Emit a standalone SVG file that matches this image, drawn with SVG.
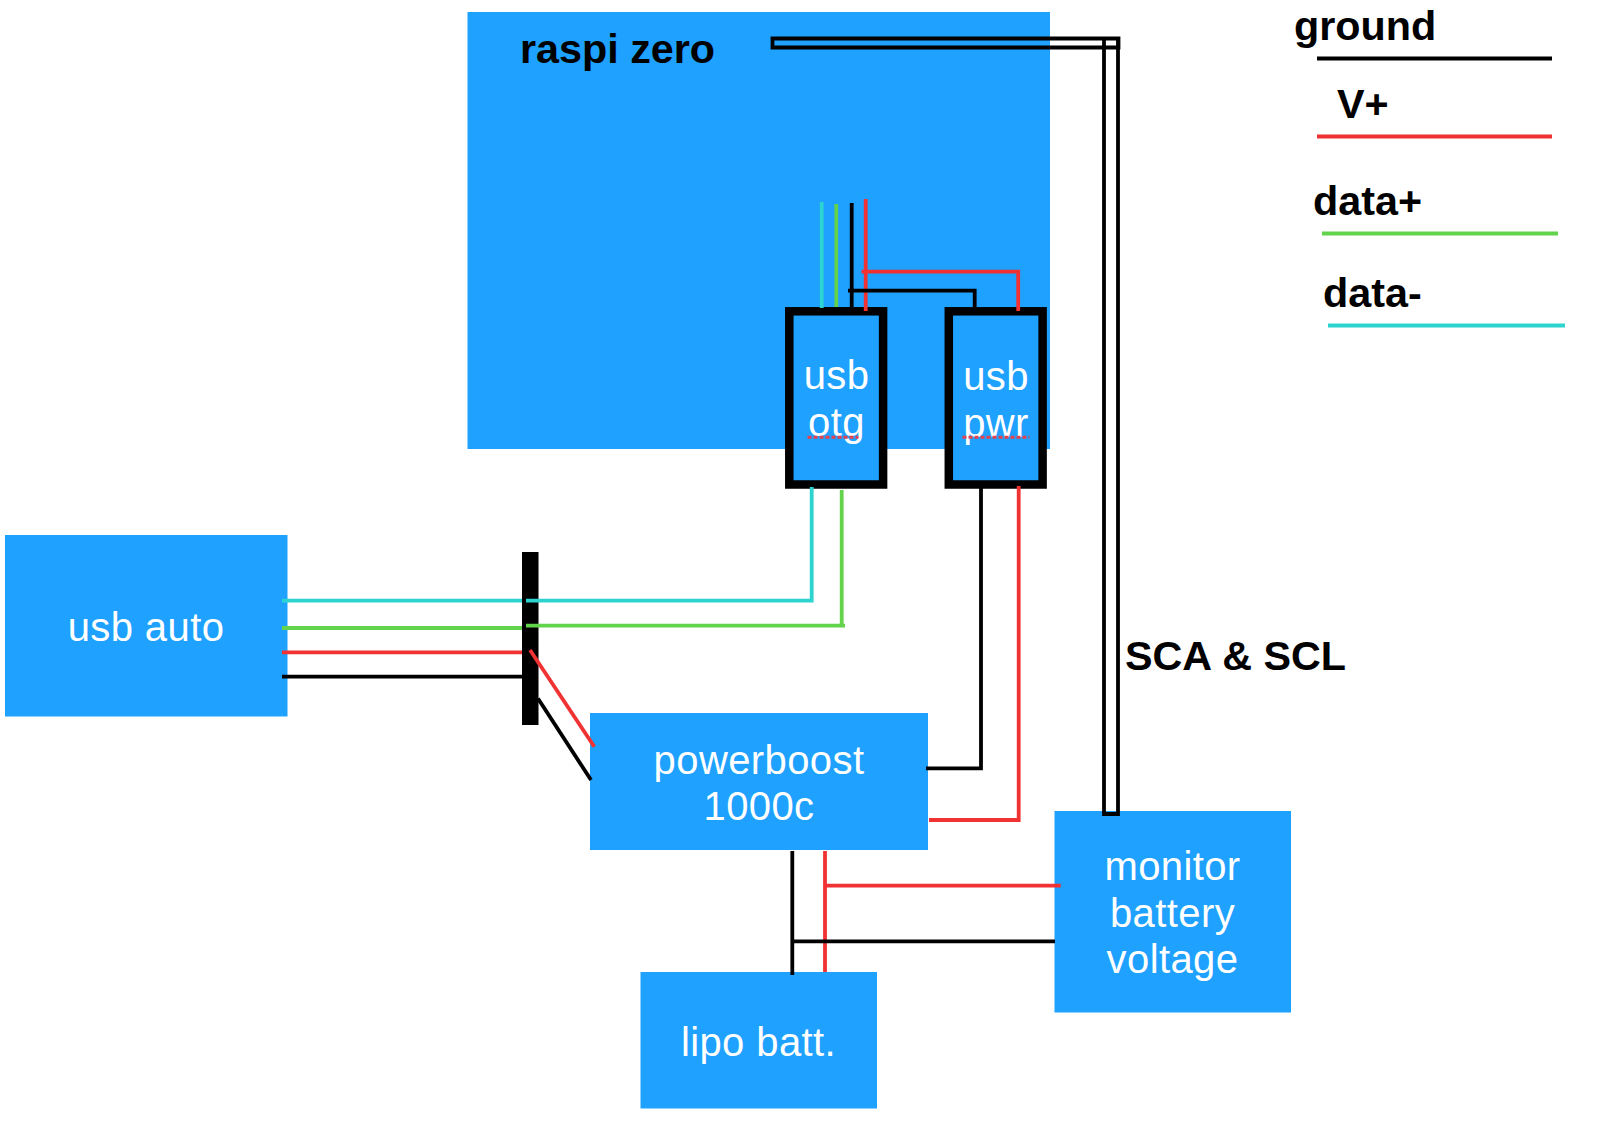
<svg xmlns="http://www.w3.org/2000/svg" width="1600" height="1125" viewBox="0 0 1600 1125">
<style>
text{font-family:"Liberation Sans",Arial,sans-serif;font-size:40px}
.n{fill:#1ea1ff}
.l{fill:#fff;text-anchor:middle;letter-spacing:.4px}
.b{fill:#000;font-weight:700;font-size:41.300px}
.w{fill:none;stroke-width:3.800;stroke-linecap:butt;stroke-linejoin:miter}
.k{stroke:#000}.r{stroke:#f03232}.g{stroke:#62d34a}.c{stroke:#2cd3cf}
.f{fill:#1ea1ff;stroke:#000;stroke-width:8.500}
.u{fill:none;stroke:#e4424f;stroke-width:3;stroke-dasharray:4 2}
</style>
<rect width="1600" height="1125" fill="#fff"/>
<g id="raspi-zero"><rect class="n" x="467.500" y="12" width="582.500" height="437"/><text class="b" x="520" y="62.500">raspi zero</text></g>
<g id="usb-otg"><rect class="f" x="789.300" y="311.300" width="93.800" height="173.200"/><text class="l" x="836.500" y="389">usb</text><text class="l" x="836.500" y="436">otg</text><line class="u" x1="807.500" y1="437.300" x2="858.500" y2="437.300"/></g>
<g id="usb-pwr"><rect class="f" x="948.800" y="311.300" width="93.800" height="173.200"/><text class="l" x="996" y="390">usb</text><text class="l" x="996" y="437">pwr</text><line class="u" x1="962.500" y1="437.300" x2="1029.500" y2="437.300"/></g>
<g id="usb-auto"><rect class="n" x="5" y="535" width="282.500" height="181.500"/><text class="l" x="146" y="640.500">usb auto</text></g>
<g id="hub-bar"><rect x="522" y="552" width="16.500" height="173" fill="#000"/></g>
<g id="powerboost"><rect class="n" x="590" y="713" width="338" height="137"/><text class="l" x="759" y="774">powerboost</text><text class="l" x="759" y="820">1000c</text></g>
<g id="monitor"><rect class="n" x="1054.500" y="811" width="236.500" height="201.500"/><text class="l" x="1172.500" y="880">monitor</text><text class="l" x="1172.500" y="927">battery</text><text class="l" x="1172.500" y="973">voltage</text></g>
<g id="lipo"><rect class="n" x="640.500" y="972" width="236.500" height="136.500"/><text class="l" x="758.500" y="1055.500">lipo batt.</text></g>
<g id="connectors">
<path class="w c" d="M821.700 202V308"/>
<path class="w g" d="M836.300 204V307"/>
<path class="w k" d="M851.700 203V307"/>
<path class="w r" d="M865.700 199V311"/>
<path class="w r" d="M861.500 271.700H1018.200V311"/>
<path class="w k" d="M848 290.700H974.700V307"/>
<path class="w c" d="M811.700 487V600.700H526"/>
<path class="w g" d="M841.700 490V625.700M845 625.700H526"/>
<path class="w k" d="M981 488V768.300H926"/>
<path class="w r" d="M1018.700 486V820H929"/>
<path class="w c" d="M282 600.700H522"/>
<path class="w g" d="M282 628H522"/>
<path class="w r" d="M282 652.300H522"/>
<path class="w k" d="M282 676.700H522"/>
<path class="w r" d="M530 650L594.300 746.700"/>
<path class="w k" d="M538 698.500L591 780"/>
<path class="w k" d="M792.300 851V975"/>
<path class="w r" d="M825 851V972"/>
<path class="w r" d="M825 885.700H1060.700"/>
<path class="w k" d="M792.300 941.300H1055"/>
<path class="w k" d="M772.500 38.500H1118.500V47.500H772.500Z"/>
<path class="w k" d="M1104 37V814H1118V37"/>
</g>
<g id="sca-label"><text class="b" x="1125" y="669.500">SCA &amp; SCL</text></g>
<g id="legend">
<text class="b" x="1294" y="40">ground</text>
<path class="w k" d="M1317 58.500H1552"/>
<text class="b" x="1337" y="118">V+</text>
<path class="w r" d="M1317 136.500H1552"/>
<text class="b" x="1313" y="215">data+</text>
<path class="w g" d="M1322 233.500H1558"/>
<text class="b" x="1323" y="307">data-</text>
<path class="w c" d="M1328 325.500H1565"/>
</g>
</svg>
